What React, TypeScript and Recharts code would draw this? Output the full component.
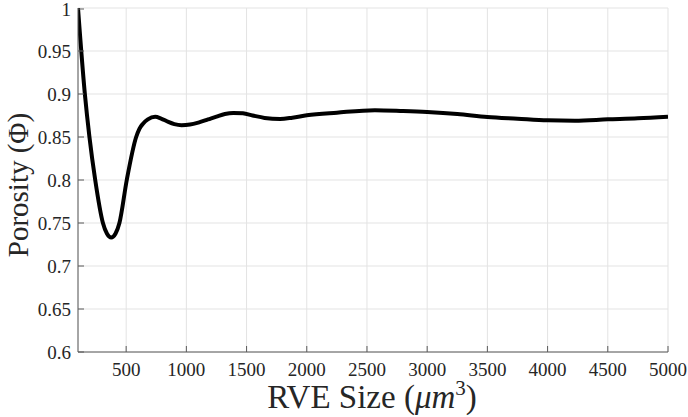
import React from "react";
import { LineChart, Line, XAxis, YAxis, CartesianGrid } from "recharts";

const rveSize = [100, 157, 195, 243, 307, 341, 376, 411, 444, 505, 583, 610, 640, 680, 741, 790, 850, 900, 960, 1030, 1100, 1180, 1250, 1320, 1390, 1470, 1550, 1650, 1778, 1880, 2000, 2250, 2566, 2800, 3000, 3250, 3500, 3750, 4000, 4226, 4500, 4750, 5000];
const porosity = [1.0, 0.9, 0.85, 0.8, 0.75, 0.7374, 0.733, 0.7374, 0.75, 0.8, 0.85, 0.8595, 0.8655, 0.8705, 0.8735, 0.8715, 0.8675, 0.865, 0.8638, 0.8645, 0.8668, 0.8705, 0.8738, 0.8768, 0.878, 0.8775, 0.875, 0.8722, 0.871, 0.8725, 0.8752, 0.8783, 0.8812, 0.8802, 0.879, 0.8767, 0.8733, 0.8713, 0.8694, 0.869, 0.8705, 0.8717, 0.8736];
const xTicks = [500, 1000, 1500, 2000, 2500, 3000, 3500, 4000, 4500, 5000];
const yTicks = [0.6, 0.65, 0.7, 0.75, 0.8, 0.85, 0.9, 0.95, 1];
const xLabel = "RVE Size";
const yLabel = "Porosity (Φ)";

const data = rveSize.map((x, i) => ({ x, y: porosity[i] }));

const FONT = '"Liberation Serif", "Times New Roman", "DejaVu Serif", serif';
const AXIS = "#5a5a5a";
const TXT = "#262626";
const TL = 6;

const fmtY = (v: number) => (v === 1 ? "1" : String(v));

const BottomTick = (p: any) => (
  <g>
    <line x1={p.x} x2={p.x} y1={p.y} y2={p.y - TL} stroke={AXIS} strokeWidth={1} />
    <text x={p.x} y={p.y + 24} textAnchor="middle" style={{ fontFamily: FONT, fontSize: 19 }} fill={TXT}>
      {p.payload.value}
    </text>
  </g>
);
const TopTick = (p: any) => (
  <line x1={p.x} x2={p.x} y1={p.y} y2={p.y + TL} stroke={AXIS} strokeWidth={1} />
);
const LeftTick = (p: any) => (
  <g>
    <line x1={p.x} x2={p.x + TL} y1={p.y} y2={p.y} stroke={AXIS} strokeWidth={1} />
    <text x={p.x - 7} y={p.y + 7} textAnchor="end" style={{ fontFamily: FONT, fontSize: 19 }} fill={TXT}>
      {fmtY(p.payload.value)}
    </text>
  </g>
);
const RightTick = (p: any) => (
  <line x1={p.x} x2={p.x - TL} y1={p.y} y2={p.y} stroke={AXIS} strokeWidth={1} />
);

export default function App() {
  return (
    <div style={{ position: "absolute", left: 0, top: 0, width: 688, height: 417, background: "#fff" }}>
      <LineChart width={688} height={417} data={data} margin={{ top: 8, right: 20, bottom: 0, left: 0 }}>
        <CartesianGrid stroke="#e3e3e3" strokeWidth={1} />
        <XAxis dataKey="x" type="number" domain={[100, 5000]} ticks={xTicks} height={65} tickSize={0} tickMargin={0} tick={BottomTick} stroke={AXIS} allowDataOverflow />
        <XAxis xAxisId="top" orientation="top" type="number" domain={[100, 5000]} ticks={xTicks} height={0} tickSize={0} tickMargin={0} tick={TopTick} stroke={AXIS} allowDataOverflow />
        <YAxis type="number" domain={[0.6, 1]} ticks={yTicks} width={78} tickSize={0} tickMargin={0} tick={LeftTick} stroke={AXIS} allowDataOverflow />
        <YAxis yAxisId="right" orientation="right" type="number" domain={[0.6, 1]} ticks={yTicks} width={0} tickSize={0} tickMargin={0} tick={RightTick} stroke={AXIS} allowDataOverflow />
        <Line type="monotone" dataKey="y" stroke="#000" strokeWidth={4} dot={false} isAnimationActive={false} />
      </LineChart>
      <svg width={688} height={417} style={{ position: "absolute", left: 0, top: 0, pointerEvents: "none" }}>
        <text x={372} y={408} textAnchor="middle" style={{ fontFamily: FONT, fontSize: 33 }} fill={TXT}>
          {xLabel} (<tspan fontStyle="italic">μm</tspan><tspan fontSize={21} dy={-13}>3</tspan><tspan dy={13}>)</tspan>
        </text>
        <text transform="translate(28,185) rotate(-90)" x={0} y={0} textAnchor="middle" style={{ fontFamily: FONT, fontSize: 29 }} fill={TXT}>
          {yLabel}
        </text>
      </svg>
    </div>
  );
}
